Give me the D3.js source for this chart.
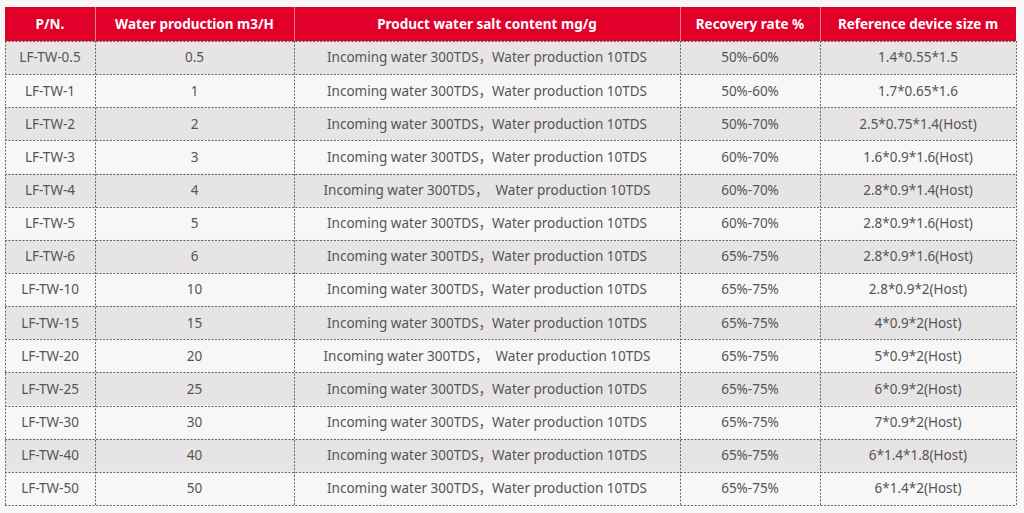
<!DOCTYPE html>
<meta charset="utf-8">
<style>
body { margin: 0; background: #f7f7f7; }
svg { display: block; }
.cell text { font-family: "Noto Sans", "Noto Sans CJK SC", sans-serif; font-size: 13.5px; fill: #555; }
.head text { font-family: "Noto Sans", "Noto Sans CJK SC", sans-serif; font-size: 13.5px; font-weight: bold; fill: #fff; }
</style>
<body>
<script src="https://d3js.org/d3.v7.min.js"></script>
<script>

// table content
var headers = ["P/N.", "Water production m3/H", "Product water salt content mg/g", "Recovery rate %", "Reference device size m"];
var partNumbers = ["LF-TW-0.5", "LF-TW-1", "LF-TW-2", "LF-TW-3", "LF-TW-4", "LF-TW-5", "LF-TW-6",
                   "LF-TW-10", "LF-TW-15", "LF-TW-20", "LF-TW-25", "LF-TW-30", "LF-TW-40", "LF-TW-50"];
var production = ["0.5", "1", "2", "3", "4", "5", "6", "10", "15", "20", "25", "30", "40", "50"];
var saltContent = [
  "Incoming water 300TDS，Water production 10TDS",
  "Incoming water 300TDS，Water production 10TDS",
  "Incoming water 300TDS，Water production 10TDS",
  "Incoming water 300TDS，Water production 10TDS",
  "Incoming water 300TDS，  Water production 10TDS",
  "Incoming water 300TDS，Water production 10TDS",
  "Incoming water 300TDS，Water production 10TDS",
  "Incoming water 300TDS，Water production 10TDS",
  "Incoming water 300TDS，Water production 10TDS",
  "Incoming water 300TDS，  Water production 10TDS",
  "Incoming water 300TDS，Water production 10TDS",
  "Incoming water 300TDS，Water production 10TDS",
  "Incoming water 300TDS，Water production 10TDS",
  "Incoming water 300TDS，Water production 10TDS"
];
var recovery = ["50%-60%", "50%-60%", "50%-70%", "60%-70%", "60%-70%", "60%-70%", "65%-75%",
                "65%-75%", "65%-75%", "65%-75%", "65%-75%", "65%-75%", "65%-75%", "65%-75%"];
var deviceSize = ["1.4*0.55*1.5", "1.7*0.65*1.6", "2.5*0.75*1.4(Host)", "1.6*0.9*1.6(Host)",
                  "2.8*0.9*1.4(Host)", "2.8*0.9*1.6(Host)", "2.8*0.9*1.6(Host)", "2.8*0.9*2(Host)",
                  "4*0.9*2(Host)", "5*0.9*2(Host)", "6*0.9*2(Host)", "7*0.9*2(Host)",
                  "6*1.4*1.8(Host)", "6*1.4*2(Host)"];

// layout
var W = 1024, H = 513;
var colEdges = [5, 95, 294, 680, 820, 1016];
var headTop = 7, headBottom = 41, tableBottom = 505;

var rows = partNumbers.map(function(p, i) {
  return [p, production[i], saltContent[i], recovery[i], deviceSize[i]];
});

var y = d3.scaleBand()
    .domain(d3.range(rows.length))
    .range([headBottom, tableBottom]);

var svg = d3.select("body").append("svg")
    .attr("width", W)
    .attr("height", H);

// header
var head = svg.append("g").attr("class", "head");
head.append("rect")
    .attr("x", colEdges[0]).attr("y", headTop)
    .attr("width", colEdges[5] - colEdges[0]).attr("height", headBottom - headTop)
    .attr("fill", "#e1002a");
head.selectAll("line")
  .data(colEdges.slice(1, 5))
  .join("line")
    .attr("x1", function(d) { return d + 0.5; }).attr("x2", function(d) { return d + 0.5; })
    .attr("y1", headTop).attr("y2", headBottom)
    .attr("stroke", "#f07a8e").attr("stroke-width", 1);
head.selectAll("text")
  .data(headers)
  .join("text")
    .attr("x", function(d, i) { return (colEdges[i] + colEdges[i + 1]) / 2; })
    .attr("y", (headTop + headBottom) / 2)
    .attr("dy", "0.36em")
    .attr("text-anchor", "middle")
    .text(function(d) { return d; });

// body rows
var body = svg.append("g").attr("class", "cell");
var rowG = body.selectAll("g")
  .data(rows)
  .join("g")
    .attr("transform", function(d, i) { return "translate(0," + y(i) + ")"; });

rowG.append("rect")
    .attr("x", colEdges[0])
    .attr("width", colEdges[5] - colEdges[0])
    .attr("height", y.bandwidth())
    .attr("fill", function(d, i) { return i % 2 === 0 ? "#e6e4e5" : "#f7f7f7"; });

rowG.selectAll("text")
  .data(function(d) { return d; })
  .join("text")
    .attr("x", function(d, i) { return (colEdges[i] + colEdges[i + 1]) / 2; })
    .attr("y", y.bandwidth() / 2)
    .attr("dy", "0.36em")
    .attr("text-anchor", "middle")
    .style("white-space", "pre")
    .attr("xml:space", "preserve")
    .text(function(d) { return d; });

// dashed grid
var grid = svg.append("g")
    .attr("stroke", "#666")
    .attr("stroke-width", 1)
    .attr("stroke-dasharray", "2,1.5")
    .attr("fill", "none");

grid.selectAll("line.h")
  .data(d3.range(rows.length + 1))
  .join("line")
    .attr("class", "h")
    .attr("x1", colEdges[0]).attr("x2", colEdges[5])
    .attr("y1", function(i) { return Math.round(i < rows.length ? y(i) : tableBottom) + 0.5; })
    .attr("y2", function(i) { return Math.round(i < rows.length ? y(i) : tableBottom) + 0.5; });

grid.selectAll("line.v")
  .data(colEdges)
  .join("line")
    .attr("class", "v")
    .attr("x1", function(d) { return d + 0.5; }).attr("x2", function(d) { return d + 0.5; })
    .attr("y1", headBottom).attr("y2", tableBottom);

</script>
</body>
